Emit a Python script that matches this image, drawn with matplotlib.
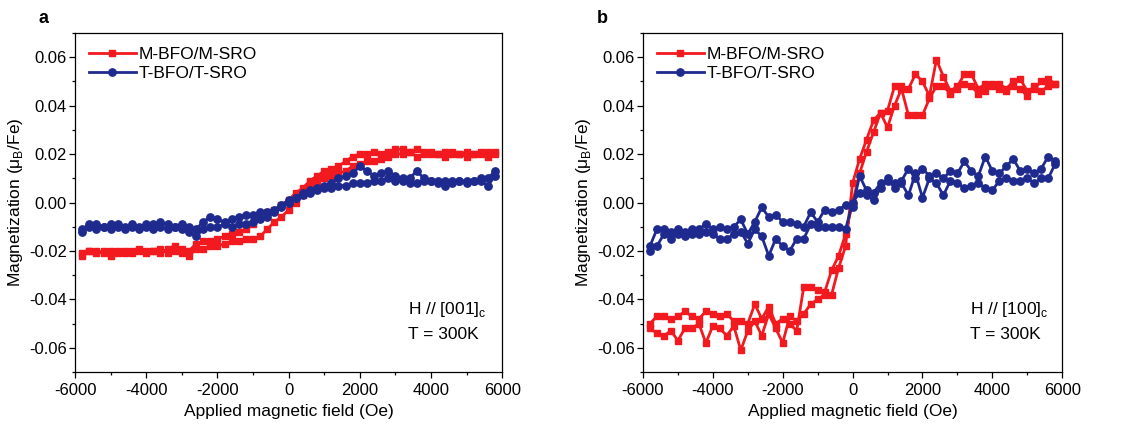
import numpy as np
import matplotlib
matplotlib.use("Agg")
import matplotlib.pyplot as plt
from matplotlib.ticker import MultipleLocator, FormatStrFormatter

plt.rcParams['font.family'] = ['Liberation Sans', 'DejaVu Sans']
plt.rcParams['axes.unicode_minus'] = False

# field steps (Oe), same grid for both loops
field = [-5800, -5600, -5400, -5200, -5000, -4800, -4600, -4400, -4200, -4000,
         -3800, -3600, -3400, -3200, -3000, -2800, -2600, -2400, -2200, -2000,
         -1800, -1600, -1400, -1200, -1000, -800, -600, -400, -200, 0,
         200, 400, 600, 800, 1000, 1200, 1400, 1600, 1800, 2000,
         2200, 2400, 2600, 2800, 3000, 3200, 3400, 3600, 3800, 4000,
         4200, 4400, 4600, 4800, 5000, 5200, 5400, 5600, 5800]

# panel a, H // [001]
a_m_up = [-0.022, -0.020, -0.021, -0.020, -0.022, -0.021, -0.020, -0.021, -0.020, -0.021,
          -0.020, -0.019, -0.021, -0.020, -0.021, -0.022, -0.019, -0.019, -0.018, -0.018,
          -0.017, -0.016, -0.016, -0.015, -0.015, -0.014, -0.011, -0.008, -0.006, -0.003,
          0.000, 0.003, 0.006, 0.008, 0.010, 0.011, 0.012, 0.013, 0.015, 0.016,
          0.017, 0.017, 0.018, 0.019, 0.020, 0.020, 0.021, 0.019, 0.020, 0.020,
          0.020, 0.019, 0.020, 0.020, 0.019, 0.020, 0.020, 0.019, 0.020]
a_m_down = [-0.021, -0.020, -0.020, -0.021, -0.020, -0.020, -0.021, -0.020, -0.019, -0.020,
            -0.020, -0.021, -0.019, -0.018, -0.019, -0.020, -0.017, -0.016, -0.016, -0.015,
            -0.014, -0.013, -0.012, -0.011, -0.009, -0.006, -0.004, -0.003, -0.001, 0.001,
            0.004, 0.006, 0.009, 0.011, 0.013, 0.014, 0.015, 0.017, 0.019, 0.020,
            0.020, 0.021, 0.020, 0.021, 0.022, 0.022, 0.021, 0.022, 0.021, 0.021,
            0.020, 0.021, 0.021, 0.020, 0.021, 0.020, 0.021, 0.021, 0.021]
a_t_up = [-0.012, -0.010, -0.011, -0.010, -0.011, -0.010, -0.011, -0.010, -0.011, -0.010,
          -0.011, -0.010, -0.011, -0.010, -0.011, -0.012, -0.014, -0.011, -0.010, -0.010,
          -0.009, -0.010, -0.009, -0.009, -0.008, -0.007, -0.006, -0.004, -0.002, 0.000,
          0.002, 0.003, 0.004, 0.005, 0.006, 0.006, 0.007, 0.007, 0.008, 0.008,
          0.008, 0.009, 0.009, 0.010, 0.009, 0.009, 0.008, 0.008, 0.009, 0.009,
          0.008, 0.007, 0.009, 0.009, 0.008, 0.009, 0.009, 0.007, 0.011]
a_t_down = [-0.011, -0.009, -0.009, -0.010, -0.009, -0.009, -0.010, -0.009, -0.010, -0.009,
            -0.009, -0.008, -0.009, -0.010, -0.009, -0.010, -0.011, -0.008, -0.006, -0.007,
            -0.008, -0.007, -0.006, -0.005, -0.005, -0.004, -0.004, -0.003, -0.001, 0.001,
            0.002, 0.004, 0.005, 0.006, 0.007, 0.008, 0.010, 0.011, 0.012, 0.015,
            0.013, 0.011, 0.012, 0.013, 0.011, 0.010, 0.010, 0.013, 0.010, 0.009,
            0.009, 0.009, 0.008, 0.009, 0.009, 0.009, 0.010, 0.010, 0.013]

# panel b, H // [100]
b_m_up = [-0.052, -0.054, -0.055, -0.053, -0.057, -0.052, -0.052, -0.050, -0.058, -0.051,
          -0.052, -0.055, -0.051, -0.061, -0.053, -0.049, -0.055, -0.046, -0.052, -0.058,
          -0.047, -0.049, -0.046, -0.042, -0.040, -0.038, -0.038, -0.027, -0.018, 0.008,
          0.018, 0.026, 0.034, 0.037, 0.031, 0.040, 0.047, 0.036, 0.036, 0.036,
          0.043, 0.048, 0.048, 0.045, 0.047, 0.049, 0.048, 0.045, 0.046, 0.049,
          0.047, 0.046, 0.048, 0.047, 0.044, 0.048, 0.046, 0.048, 0.049]
b_m_down = [-0.050, -0.047, -0.047, -0.048, -0.047, -0.045, -0.047, -0.048, -0.045, -0.046,
            -0.047, -0.046, -0.049, -0.049, -0.050, -0.042, -0.048, -0.043, -0.050, -0.048,
            -0.050, -0.053, -0.035, -0.035, -0.036, -0.037, -0.028, -0.022, -0.013, 0.000,
            0.012, 0.021, 0.029, 0.037, 0.038, 0.048, 0.048, 0.047, 0.053, 0.050,
            0.044, 0.059, 0.052, 0.046, 0.048, 0.053, 0.053, 0.047, 0.049, 0.048,
            0.049, 0.047, 0.050, 0.051, 0.046, 0.047, 0.050, 0.051, 0.049]
b_t_up = [-0.020, -0.018, -0.013, -0.015, -0.013, -0.014, -0.013, -0.013, -0.012, -0.013,
          -0.015, -0.015, -0.013, -0.012, -0.017, -0.011, -0.014, -0.022, -0.015, -0.018,
          -0.020, -0.015, -0.015, -0.009, -0.010, -0.010, -0.010, -0.010, -0.011, 0.000,
          0.004, 0.003, 0.001, 0.006, 0.010, 0.006, 0.008, 0.003, 0.012, 0.002,
          0.010, 0.008, 0.003, 0.009, 0.008, 0.006, 0.007, 0.008, 0.006, 0.005,
          0.009, 0.010, 0.009, 0.009, 0.010, 0.008, 0.010, 0.010, 0.016]
b_t_down = [-0.018, -0.011, -0.011, -0.012, -0.011, -0.012, -0.011, -0.011, -0.009, -0.011,
            -0.010, -0.011, -0.010, -0.007, -0.013, -0.008, -0.002, -0.006, -0.005, -0.008,
            -0.008, -0.009, -0.010, -0.004, -0.008, -0.003, -0.004, -0.003, -0.001, -0.002,
            0.011, 0.005, 0.004, 0.008, 0.009, 0.008, 0.009, 0.014, 0.010, 0.014,
            0.011, 0.012, 0.010, 0.013, 0.012, 0.017, 0.013, 0.011, 0.019, 0.013,
            0.012, 0.015, 0.018, 0.013, 0.014, 0.012, 0.014, 0.019, 0.017]

red = '#f2191f'
blue = '#1f2a8e'


def loop(up, down):
    # go down from +H to -H, then back up
    h = np.array(field)
    x = np.concatenate([h[::-1], h])
    y = np.concatenate([np.array(down)[::-1], np.array(up)])
    return x, y


def panel(ax, m_up, m_down, t_up, t_down, direction, letter, letter_x):
    x, y = loop(m_up, m_down)
    ax.plot(x, y, color=red, lw=2.0, marker='s', ms=5, label='M-BFO/M-SRO')
    x, y = loop(t_up, t_down)
    ax.plot(x, y, color=blue, lw=2.0, marker='o', ms=5.3, label='T-BFO/T-SRO')
    ax.set_xlim(-6000, 6000)
    ax.set_ylim(-0.07, 0.07)
    ax.xaxis.set_major_locator(MultipleLocator(2000))
    ax.xaxis.set_minor_locator(MultipleLocator(1000))
    ax.yaxis.set_major_locator(MultipleLocator(0.02))
    ax.yaxis.set_minor_locator(MultipleLocator(0.01))
    ax.yaxis.set_major_formatter(FormatStrFormatter('%.2f'))
    ax.tick_params(labelsize=12, length=4, width=0.9, pad=2)
    ax.tick_params(axis='x', pad=4)
    ax.tick_params(which='minor', length=2.5, width=0.9)
    ax.set_xlabel('Applied magnetic field (Oe)', fontsize=12.5, labelpad=4)
    ax.set_ylabel(r'Magnetization (μ$_\mathregular{B}$/Fe)', fontsize=12.5, labelpad=3)
    for s in ax.spines.values():
        s.set_linewidth(0.9)
    ax.legend(loc='upper left', frameon=False, fontsize=12.5, handlelength=2.7,
              handletextpad=0.15, borderaxespad=0.4, labelspacing=0.2)
    ax.text(0.78, 0.183, 'H // [' + direction + r']$_\mathregular{c}$', transform=ax.transAxes,
            fontsize=12.5, va='center')
    ax.text(0.78, 0.112, 'T = 300K', transform=ax.transAxes, fontsize=12.5, va='center')
    ax.text(letter_x, 1.03, letter, transform=ax.transAxes, fontsize=13,
            fontweight='bold')


fig = plt.figure(figsize=(11.3, 4.24), dpi=100)
ax1 = fig.add_axes([0.0664, 0.1226, 0.378, 0.7995])
ax2 = fig.add_axes([0.569, 0.1226, 0.371, 0.7995])

panel(ax1, a_m_up, a_m_down, a_t_up, a_t_down, '001', 'a', -0.085)
panel(ax2, b_m_up, b_m_down, b_t_up, b_t_down, '100', 'b', -0.11)

fig.savefig('out.png', dpi=100)
